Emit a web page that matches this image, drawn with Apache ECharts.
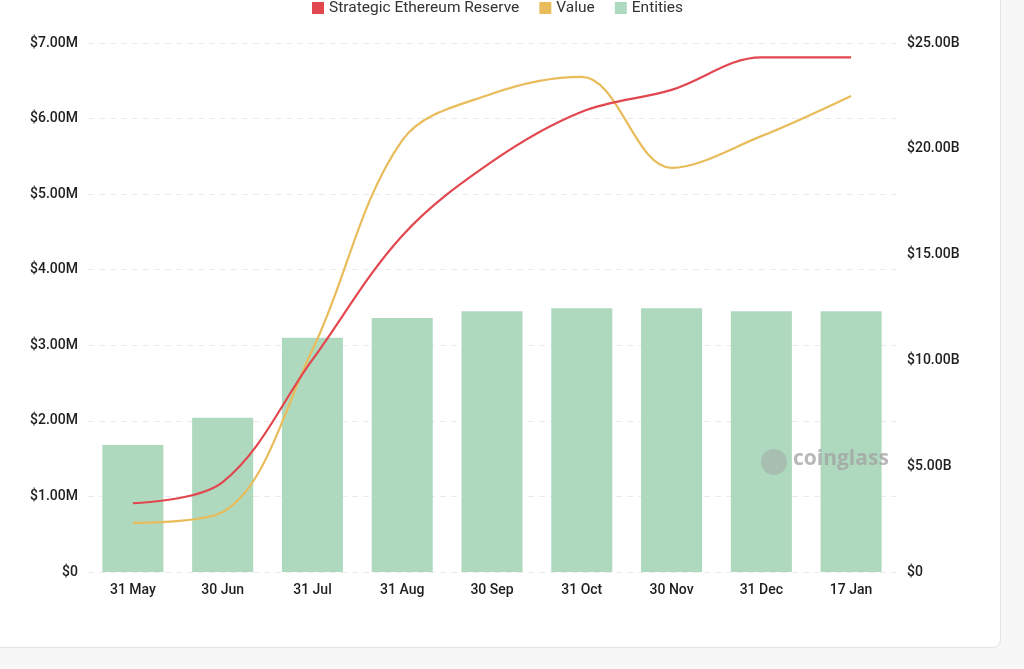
<!DOCTYPE html>
<html>
<head>
<meta charset="utf-8">
<title>Strategic Ethereum Reserve</title>
<script src="https://cdn.jsdelivr.net/npm/echarts@6/dist/echarts.min.js"></script>
<style>
    html, body {
        margin: 0;
        padding: 0;
        width: 1024px;
        height: 669px;
        background: #f7f7f7;
        overflow: hidden;
    }
    .card {
        position: absolute;
        left: -10px;
        top: -10px;
        width: 1009px;
        height: 656px;
        background: #fff;
        border: 1px solid #e4e4e4;
        border-radius: 8px;
    }
    #chart {
        position: absolute;
        left: 0;
        top: 0;
        width: 1024px;
        height: 669px;
    }
</style>
</head>
<body>
<div class="card"></div>
<div id="chart"></div>
<script>
    // data
    const months = ['31 May', '30 Jun', '31 Jul', '31 Aug', '30 Sep', '31 Oct', '30 Nov', '31 Dec', '17 Jan'];
    const reserve = [0.91, 1.19, 2.81, 4.45, 5.43, 6.09, 6.38, 6.81, 6.81];        // left axis, M
    const value = [2.32, 2.84, 10.5, 20.4, 22.6, 23.4, 19.1, 20.6, 22.5];         // right axis, B
    const entities = [16.8, 20.4, 31.0, 33.6, 34.5, 34.9, 34.9, 34.5, 34.5];      // hidden axis

    const leftTicks = { min: 0, max: 7, interval: 1 };
    const rightTicks = { min: 0, max: 25, interval: 5 };

    const labelFont = {
        color: '#1e1e1e',
        fontSize: 14,
        fontWeight: 500,
        fontFamily: 'Roboto, "Noto Sans", sans-serif'
    };

    let chart = echarts.init(document.getElementById('chart'), null, { renderer: 'canvas' });
    let option = {
        animation: false,
        color: ['#e2474f', '#e8bc5b', '#aed9bf'],
        legend: {
            top: -5,
            left: 307,
            itemWidth: 12,
            itemHeight: 12,
            itemGap: 20,
            icon: 'rect',
            textStyle: {
                color: '#333',
                fontSize: 15.5,
                fontFamily: 'Roboto, "Noto Sans", sans-serif'
            },
            data: ['Strategic Ethereum Reserve', 'Value', 'Entities']
        },
        grid: {
            left: 88,
            right: 128,
            top: 43,
            bottom: 97
        },
        xAxis: {
            type: 'category',
            data: months,
            axisLine: { show: false },
            axisTick: { show: false },
            axisLabel: Object.assign({ margin: 11 }, labelFont)
        },
        yAxis: [
            {
                type: 'value',
                min: leftTicks.min,
                max: leftTicks.max,
                interval: leftTicks.interval,
                axisLine: { show: false },
                axisTick: { show: false },
                axisLabel: Object.assign({
                    margin: 10,
                    formatter: function (v) { return v === 0 ? '$0' : '$' + v.toFixed(2) + 'M'; }
                }, labelFont),
                splitLine: {
                    lineStyle: { color: '#ebebeb', type: [6, 5], width: 1 }
                }
            },
            {
                type: 'value',
                min: rightTicks.min,
                max: rightTicks.max,
                interval: rightTicks.interval,
                axisLine: { show: false },
                axisTick: { show: false },
                axisLabel: Object.assign({
                    margin: 11,
                    formatter: function (v) { return v === 0 ? '$0' : '$' + v.toFixed(2) + 'B'; }
                }, labelFont),
                splitLine: { show: false }
            },
            {
                type: 'value',
                show: false,
                min: 0,
                max: 70
            }
        ],
        graphic: [
            {
                type: 'circle',
                left: 761,
                top: 449,
                shape: { r: 13 },
                style: { fill: 'rgba(160,160,160,0.45)' },
                z: 100
            },
            {
                type: 'text',
                left: 793,
                top: 449,
                style: {
                    text: 'coinglass',
                    fill: 'rgba(160,160,160,0.75)',
                    font: 'bold 21px "Open Sans", sans-serif'
                },
                z: 100
            }
        ],
        series: [
            {
                name: 'Entities',
                type: 'bar',
                yAxisIndex: 2,
                barWidth: '68%',
                itemStyle: { color: '#aed9bf' },
                data: entities,
                z: 1
            },
            {
                name: 'Strategic Ethereum Reserve',
                type: 'line',
                yAxisIndex: 0,
                smooth: 0.35,
                showSymbol: false,
                lineStyle: { width: 2.2, color: '#e2474f' },
                itemStyle: { color: '#e2474f' },
                data: reserve,
                z: 3
            },
            {
                name: 'Value',
                type: 'line',
                yAxisIndex: 1,
                smooth: 0.35,
                showSymbol: false,
                lineStyle: { width: 2.2, color: '#e8bc5b' },
                itemStyle: { color: '#e8bc5b' },
                data: value,
                z: 2
            }
        ]
    };
    chart.setOption(option);
</script>
</body>
</html>
